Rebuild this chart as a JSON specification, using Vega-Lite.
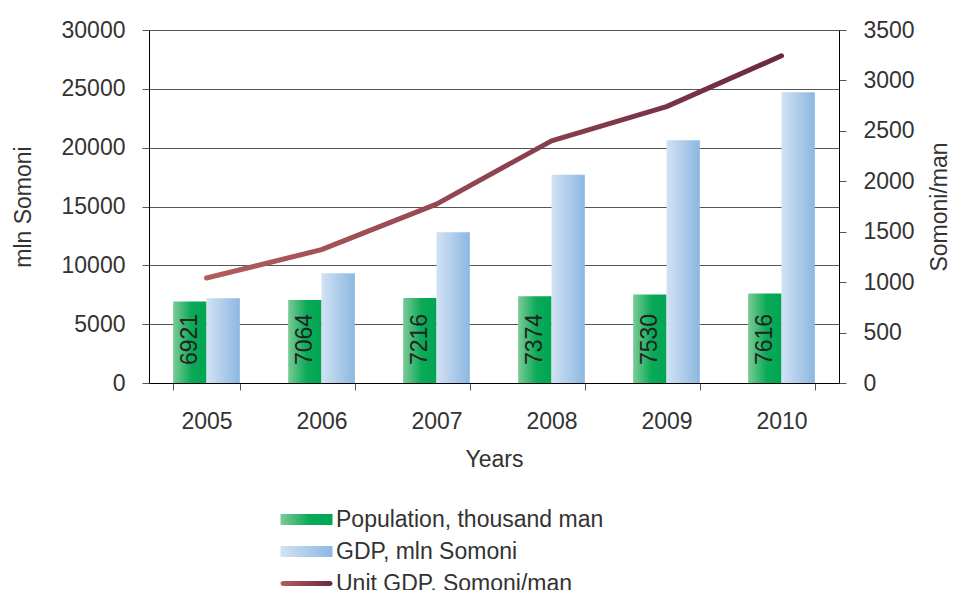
{
  "$schema": "https://vega.github.io/schema/vega-lite/v6.json",
  "width": 690,
  "height": 353,
  "autosize": {"type": "none"},
  "padding": {"left": 149, "top": 30, "right": 114, "bottom": 207},
  "background": "white",
  "config": {
    "font": "Liberation Sans",
    "view": {"stroke": null},
    "axis": {
      "labelFont": "Liberation Sans",
      "labelFontSize": 23,
      "labelColor": "#333333",
      "titleFont": "Liberation Sans",
      "titleFontSize": 23,
      "titleFontWeight": "normal",
      "titleColor": "#333333",
      "domainColor": "#000000",
      "tickColor": "#555555"
    }
  },
  "data": {
    "values": [
      {"year": "2005", "kind": "bar", "series": "Population, thousand man", "value": 6921},
      {"year": "2006", "kind": "bar", "series": "Population, thousand man", "value": 7064},
      {"year": "2007", "kind": "bar", "series": "Population, thousand man", "value": 7216},
      {"year": "2008", "kind": "bar", "series": "Population, thousand man", "value": 7374},
      {"year": "2009", "kind": "bar", "series": "Population, thousand man", "value": 7530},
      {"year": "2010", "kind": "bar", "series": "Population, thousand man", "value": 7616},
      {"year": "2005", "kind": "bar", "series": "GDP, mln Somoni", "value": 7207},
      {"year": "2006", "kind": "bar", "series": "GDP, mln Somoni", "value": 9335},
      {"year": "2007", "kind": "bar", "series": "GDP, mln Somoni", "value": 12804},
      {"year": "2008", "kind": "bar", "series": "GDP, mln Somoni", "value": 17707},
      {"year": "2009", "kind": "bar", "series": "GDP, mln Somoni", "value": 20629},
      {"year": "2010", "kind": "bar", "series": "GDP, mln Somoni", "value": 24705},
      {"year": "2005", "kind": "line", "series": "Unit GDP, Somoni/man", "value": 1041},
      {"year": "2006", "kind": "line", "series": "Unit GDP, Somoni/man", "value": 1322},
      {"year": "2007", "kind": "line", "series": "Unit GDP, Somoni/man", "value": 1774},
      {"year": "2008", "kind": "line", "series": "Unit GDP, Somoni/man", "value": 2401},
      {"year": "2009", "kind": "line", "series": "Unit GDP, Somoni/man", "value": 2740},
      {"year": "2010", "kind": "line", "series": "Unit GDP, Somoni/man", "value": 3244}
    ]
  },
  "encoding": {
    "x": {
      "field": "year",
      "type": "nominal",
      "scale": {"paddingInner": 0.42, "paddingOuter": 0.21},
      "axis": {
        "title": "Years",
        "labelAngle": 0,
        "tickBand": "extent",
        "tickSize": 7,
        "labelPadding": 20,
        "titlePadding": 15,
        "encode": {"ticks": {"update": {"y": {"value": -7}, "y2": {"value": 7}}}}
      }
    },
    "color": {
      "field": "series",
      "type": "nominal",
      "scale": {
        "domain": ["Population, thousand man", "GDP, mln Somoni", "Unit GDP, Somoni/man"],
        "range": [
          {"expr": "{gradient: 'linear', x1: 0, y1: 0, x2: 1, y2: 0, stops: [{offset: 0, color: '#7ccb97'}, {offset: 0.55, color: '#0aaa58'}, {offset: 1, color: '#00a651'}]}"},
          {"expr": "{gradient: 'linear', x1: 0, y1: 0, x2: 1, y2: 0, stops: [{offset: 0, color: '#d2e2f4'}, {offset: 1, color: '#8cb7e1'}]}"},
          {"expr": "{gradient: 'linear', x1: 0, y1: 0, x2: 1, y2: 0, stops: [{offset: 0, color: '#b35c5c'}, {offset: 1, color: '#6a2942'}]}"}
        ]
      },
      "legend": {
        "title": null,
        "orient": "none",
        "legendX": 130,
        "legendY": 478,
        "direction": "vertical",
        "padding": 0,
        "symbolSize": 400,
        "labelFont": "Liberation Sans",
        "labelFontSize": 23,
        "labelColor": "#333333",
        "labelOffset": 34,
        "rowPadding": 8,
        "labelLimit": 400,
        "encode": {
          "symbols": {
            "update": {
              "shape": [
                {"test": "datum.label === 'Unit GDP, Somoni/man'", "value": "M-0.75,-0.25H3.95A0.25,0.25,0,0,1,3.95,0.25H-0.75A0.25,0.25,0,0,1,-0.75,-0.25Z"},
                {"value": "M-1,-0.55H4.2V0.55H-1Z"}
              ],
              "fill": {"scale": "color", "field": "value"},
              "fillOpacity": {"value": 1},
              "opacity": {"value": 1},
              "strokeWidth": {"value": 0}
            }
          }
        }
      }
    }
  },
  "layer": [
    {
      "encoding": {
        "y": {
          "field": "value",
          "type": "quantitative",
          "scale": {"domain": [0, 30000], "nice": false},
          "axis": {
            "title": "mln Somoni",
            "values": [0, 5000, 10000, 15000, 20000, 25000, 30000],
            "grid": true,
            "gridColor": "#555555",
            "gridWidth": 1,
            "tickSize": 7,
            "labelPadding": 17,
            "titlePadding": 26,
            "format": "d"
          }
        }
      },
      "layer": [
        {
          "transform": [{"filter": "datum.kind === 'bar'"}],
          "mark": {"type": "bar"},
          "encoding": {
            "xOffset": {
              "field": "series",
              "type": "nominal",
              "scale": {"domain": ["Population, thousand man", "GDP, mln Somoni"], "paddingInner": 0, "paddingOuter": 0}
            }
          }
        },
        {
          "transform": [{"filter": "datum.series === 'Population, thousand man'"}],
          "mark": {"type": "text", "angle": 270, "align": "left", "baseline": "middle", "dx": 18, "fontSize": 23, "font": "Liberation Sans"},
          "encoding": {
            "xOffset": {"field": "series", "type": "nominal"},
            "y": {"datum": 0, "type": "quantitative"},
            "text": {"field": "value", "type": "quantitative", "format": "d"},
            "color": {"value": "#222222"}
          }
        }
      ]
    },
    {
      "transform": [{"filter": "datum.kind === 'line'"}],
      "mark": {"type": "line", "strokeWidth": 5, "strokeCap": "round", "strokeJoin": "round"},
      "encoding": {
        "y": {
          "field": "value",
          "type": "quantitative",
          "scale": {"domain": [0, 3500], "nice": false},
          "axis": {
            "orient": "right",
            "title": "Somoni/man",
            "values": [0, 500, 1000, 1500, 2000, 2500, 3000, 3500],
            "grid": false,
            "tickSize": 7,
            "labelPadding": 17,
            "titlePadding": 14,
            "titleAngle": 270,
            "titleBaseline": "top",
            "format": "d",
            "encode": {"ticks": {"update": {"x": {"value": -7}, "x2": {"value": 7}}}}
          }
        }
      }
    }
  ],
  "resolve": {"scale": {"y": "independent"}}
}
